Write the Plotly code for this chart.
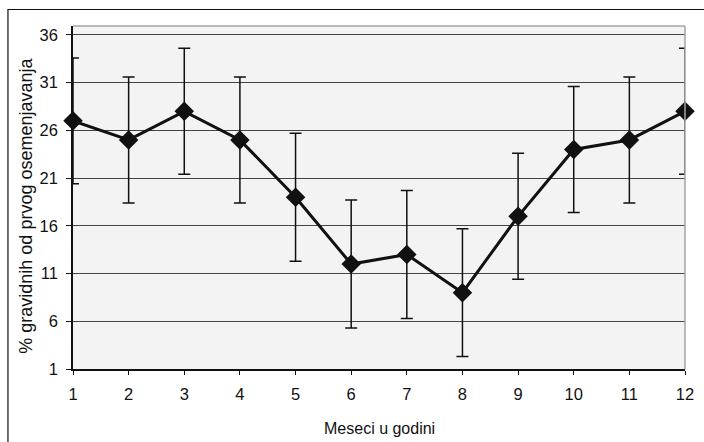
import plotly.graph_objects as go

# Monthly pregnancy rate after first insemination, with error margins
months = [1, 2, 3, 4, 5, 6, 7, 8, 9, 10, 11, 12]
pregnant_pct = [27, 25, 28, 25, 19, 12, 13, 9, 17, 24, 25, 28]
error_margin = [6.6, 6.6, 6.6, 6.6, 6.7, 6.7, 6.7, 6.7, 6.6, 6.6, 6.6, 6.6]
y_ticks = [1, 6, 11, 16, 21, 26, 31, 36]

W, H = 704, 442
L, R, T, B = 73, 10, 26, 73
pw, ph = W - L - R, H - T - B


def px_x(p):
    return (p - L) / pw


def px_y(p):
    return (H - B - p) / ph


fig = go.Figure()
fig.add_trace(go.Scatter(
    x=months,
    y=pregnant_pct,
    mode="lines+markers",
    line=dict(color="#111111", width=3),
    marker=dict(symbol="diamond", size=15, color="#111111"),
    error_y=dict(type="data", array=error_margin, visible=True,
                 color="#111111", thickness=1.5, width=6),
    cliponaxis=False,
    showlegend=False,
))

font = "Liberation Sans, Arial, sans-serif"

fig.update_layout(
    width=W, height=H,
    margin=dict(l=L, r=R, t=T, b=B, pad=0),
    paper_bgcolor="white",
    plot_bgcolor="#f3f3f3",
    font=dict(family=font, size=16.5, color="#111111"),
    xaxis=dict(
        range=[1, 12], tickvals=months, ticktext=[str(m) for m in months],
        ticks="outside", ticklen=4, tickcolor="#111111", tickwidth=1,
        showline=True, linecolor="#111111", linewidth=1.5,
        showgrid=False, zeroline=False, ticklabelstandoff=5,
        tickfont=dict(size=16.5),
    ),
    yaxis=dict(
        range=[1, 36.94], tickvals=y_ticks, ticktext=[str(v) for v in y_ticks],
        ticks="outside", ticklen=5, tickcolor="#111111", tickwidth=1,
        showline=True, linecolor="#111111", linewidth=1.5,
        showgrid=True, gridcolor="#444444", gridwidth=1, zeroline=False,
        ticklabelstandoff=5, tickfont=dict(size=16.5),
    ),
    shapes=[
        # plot area border on the top and right
        dict(type="line", xref="paper", yref="paper", x0=0, x1=1, y0=1, y1=1,
             line=dict(color="#a6a6a6", width=1.5)),
        dict(type="line", xref="paper", yref="paper", x0=1, x1=1, y0=0, y1=1,
             line=dict(color="#a6a6a6", width=1.5)),
        # outer chart frame
        dict(type="rect", xref="paper", yref="paper",
             x0=px_x(7), x1=px_x(W + 20), y0=px_y(H + 20), y1=px_y(9.5),
             line=dict(color="#111111", width=1.2), layer="above"),
    ],
    annotations=[
        dict(text="% gravidnih od prvog osemenjavanja", xref="paper", yref="paper",
             x=px_x(25), y=px_y(206), textangle=-90, showarrow=False,
             xanchor="center", yanchor="middle", font=dict(size=18)),
        dict(text="Meseci u godini", xref="paper", yref="paper",
             x=px_x(384), y=px_y(428), showarrow=False,
             xanchor="center", yanchor="middle", font=dict(size=16)),
    ],
)

fig.write_html("out.html")
